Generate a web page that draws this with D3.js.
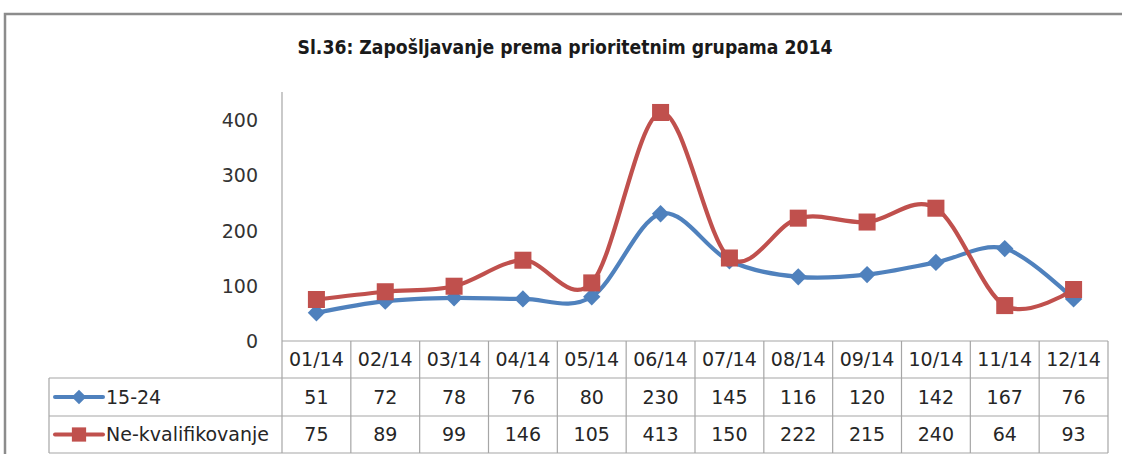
<!DOCTYPE html>
<html>
<head>
<meta charset="utf-8">
<script src="https://cdnjs.cloudflare.com/ajax/libs/d3/7.8.5/d3.min.js"></script>
<style>
  body { margin: 0; background: #fff; }
  svg { display: block; }
</style>
</head>
<body>
<div id="chart"></div>
<script>
var months = ['01/14', '02/14', '03/14', '04/14', '05/14', '06/14', '07/14', '08/14', '09/14', '10/14', '11/14', '12/14'];
var youth = [51, 72, 78, 76, 80, 230, 145, 116, 120, 142, 167, 76];
var unskilled = [75, 89, 99, 146, 105, 413, 150, 222, 215, 240, 64, 93];
var series_names = ['15-24', 'Ne-kvalifikovanje'];
var y_ticks = [0, 100, 200, 300, 400];
var title_text = 'Sl.36: Zapošljavanje prema prioritetnim grupama 2014';

var width = 1122, height = 454;
var font = '"DejaVu Sans", sans-serif';
var grid_color = '#a6a6a6';

var svg = d3.select('#chart').append('svg')
    .attr('width', width)
    .attr('height', height);

// outer frame (only top and left visible)
svg.append('path')
    .attr('d', 'M5,454 L5,14 L1122,14')
    .attr('fill', 'none')
    .attr('stroke', '#8c8c8c')
    .attr('stroke-width', 2.5);

svg.append('text')
    .attr('x', 565)
    .attr('y', 54)
    .attr('text-anchor', 'middle')
    .attr('textLength', 535)
    .attr('lengthAdjust', 'spacingAndGlyphs')
    .style('font-family', '"DejaVu Sans Condensed", "DejaVu Sans", sans-serif')
    .style('font-weight', 'bold')
    .style('font-size', '19px')
    .style('fill', '#1a1a1a')
    .text(title_text);

var plot = {left: 282, right: 1108, top: 92, bottom: 341};
var table = {legend_left: 49, row1: 378, row2: 416, bottom: 453};

var x = d3.scaleBand()
    .domain(months)
    .range([plot.left, plot.right]);

var y = d3.scaleLinear()
    .domain([0, 450])
    .range([plot.bottom, plot.top]);

// y axis labels
var y_axis = d3.axisLeft(y).tickValues(y_ticks).tickSize(0).tickPadding(24);
var gy = svg.append('g')
    .attr('transform', 'translate(' + plot.left + ',0)')
    .call(y_axis);
gy.select('.domain').remove();
gy.selectAll('text')
    .attr('dy', '0.36em')
    .style('font-family', font)
    .style('font-size', '19px')
    .style('fill', '#333');

// axis line through the table
svg.append('line')
    .attr('x1', plot.left).attr('x2', plot.left)
    .attr('y1', plot.top).attr('y2', table.bottom)
    .attr('stroke', grid_color).attr('stroke-width', 1.2);

// data table grid
var hlines = [
    {x1: plot.left, y: plot.bottom},
    {x1: table.legend_left, y: table.row1},
    {x1: table.legend_left, y: table.row2},
    {x1: table.legend_left, y: table.bottom}
];
svg.selectAll('.hline')
    .data(hlines)
    .enter().append('line')
    .attr('class', 'hline')
    .attr('x1', function(d) { return d.x1; })
    .attr('x2', plot.right)
    .attr('y1', function(d) { return d.y; })
    .attr('y2', function(d) { return d.y; })
    .attr('stroke', grid_color).attr('stroke-width', 1.2);

svg.selectAll('.vline')
    .data(months)
    .enter().append('line')
    .attr('class', 'vline')
    .attr('x1', function(d) { return x(d) + x.bandwidth(); })
    .attr('x2', function(d) { return x(d) + x.bandwidth(); })
    .attr('y1', plot.bottom)
    .attr('y2', table.bottom)
    .attr('stroke', grid_color).attr('stroke-width', 1.2);

svg.append('line')
    .attr('x1', table.legend_left).attr('x2', table.legend_left)
    .attr('y1', table.row1).attr('y2', table.bottom)
    .attr('stroke', grid_color).attr('stroke-width', 1.2);

var cell_text = function(sel) {
    sel.attr('text-anchor', 'middle')
        .attr('dy', '0.36em')
        .style('font-family', font)
        .style('font-size', '19px')
        .style('fill', '#262626');
};

svg.selectAll('.month')
    .data(months)
    .enter().append('text')
    .attr('class', 'month')
    .attr('x', function(d) { return x(d) + x.bandwidth() / 2; })
    .attr('y', (plot.bottom + table.row1) / 2)
    .text(function(d) { return d; })
    .call(cell_text);

// diamond = square turned 45 degrees
var rows = [
    {name: series_names[0], values: youth, color: '#4f81bd', marker: d3.symbolSquare, size: 150, rot: 45, y: (table.row1 + table.row2) / 2},
    {name: series_names[1], values: unskilled, color: '#c0504d', marker: d3.symbolSquare, size: 290, rot: 0, y: (table.row2 + table.bottom) / 2}
];

rows.forEach(function(r) {
    svg.selectAll(null)
        .data(r.values)
        .enter().append('text')
        .attr('x', function(d, i) { return x(months[i]) + x.bandwidth() / 2; })
        .attr('y', r.y)
        .text(function(d) { return d; })
        .call(cell_text);

    // legend key
    svg.append('line')
        .attr('x1', 55).attr('x2', 103)
        .attr('y1', r.y).attr('y2', r.y)
        .attr('stroke', r.color).attr('stroke-width', 4)
        .attr('stroke-linecap', 'round');
    svg.append('path')
        .attr('d', d3.symbol().type(r.marker).size(r.size * 0.7))
        .attr('transform', 'translate(79,' + r.y + ') rotate(' + r.rot + ')')
        .attr('fill', r.color);
    svg.append('text')
        .attr('x', 106)
        .attr('y', r.y)
        .attr('dy', '0.36em')
        .style('font-family', font)
        .style('font-size', '19px')
        .style('fill', '#262626')
        .text(r.name);
});

// series lines
var line = d3.line()
    .x(function(d, i) { return x(months[i]) + x.bandwidth() / 2; })
    .y(function(d) { return y(d); })
    .curve(d3.curveCatmullRom.alpha(0));

rows.forEach(function(r) {
    svg.append('path')
        .datum(r.values)
        .attr('d', line)
        .attr('fill', 'none')
        .attr('stroke', r.color)
        .attr('stroke-width', 4.2)
        .attr('stroke-linejoin', 'round');
    svg.selectAll(null)
        .data(r.values)
        .enter().append('path')
        .attr('d', d3.symbol().type(r.marker).size(r.size))
        .attr('transform', function(d, i) {
            return 'translate(' + (x(months[i]) + x.bandwidth() / 2) + ',' + y(d) + ') rotate(' + r.rot + ')';
        })
        .attr('fill', r.color);
});
</script>
</body>
</html>
